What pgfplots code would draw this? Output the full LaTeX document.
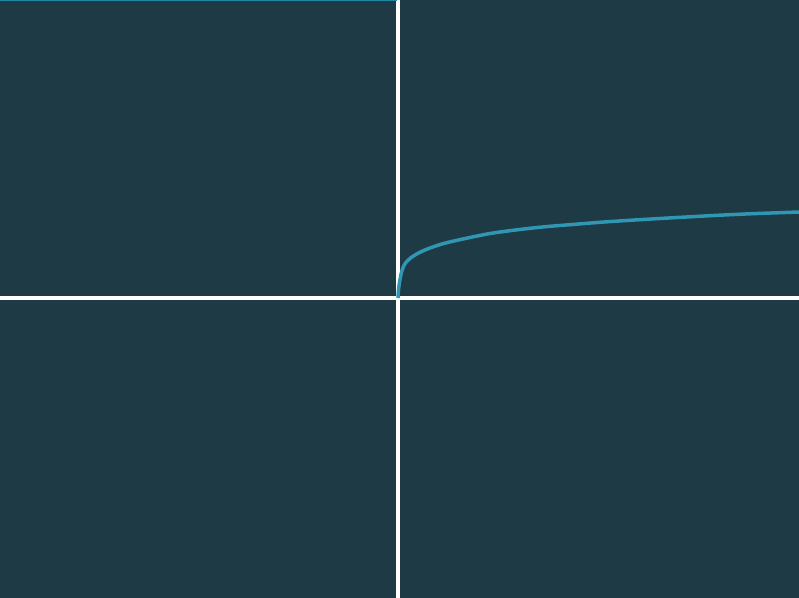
\documentclass[border=0pt]{standalone}
\usepackage{pgfplots}
\pgfplotsset{compat=1.18}
\definecolor{bg}{HTML}{1E3A45}
\definecolor{curve}{HTML}{2F96B4}
\definecolor{topline}{HTML}{1E8AA5}
\begin{document}
\begin{tikzpicture}
\begin{axis}[
  name=ax,
  scale only axis,
  width=799bp, height=598bp,
  xmin=-398, xmax=401, ymin=-300, ymax=298,
  axis lines=middle,
  axis line style={white, line width=4bp, -},
  ticks=none,
  axis background/.style={fill=bg},
  clip=true,
]
\addplot[topline, line width=3bp] coordinates {(-398,298) (-1,298)};
\addplot[curve, line width=3.5bp, smooth] coordinates {
(0,0) (0.4,7) (1.1,13) (2,18.5) (3.3,25) (5.3,31) (7.5,35) (10.3,38) (13.5,40.7) (17,43) (24,46.7) (32,50) (44,54) (56,57) (72,60.5) (92,64.5) (112,67.3) (132,69.7) (152,71.7) (172,73.3) (202,75.7) (232,77.7) (262,79.5) (292,81.2) (322,82.8) (352,84.2) (382,85.3) (401,86)
};
\end{axis}
\pgfresetboundingbox
\path[use as bounding box] (ax.south west) rectangle (ax.north east);
\end{tikzpicture}
\end{document}
